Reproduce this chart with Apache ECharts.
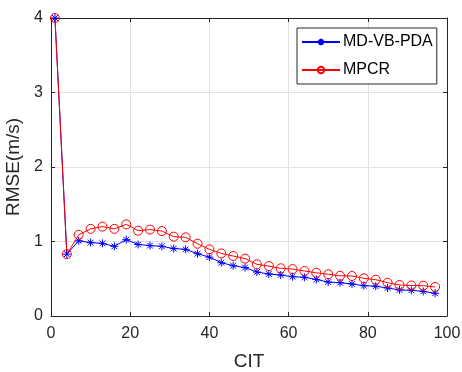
<!DOCTYPE html>
<html>
<head>
<meta charset="utf-8">
<script src="https://cdn.jsdelivr.net/npm/echarts@6/dist/echarts.min.js"></script>
<style>html,body{margin:0;padding:0;background:#fff}#c{width:462px;height:372px}</style>
</head>
<body>
<div id="c"></div>
<script>
const cit = [1,4,7,10,13,16,19,22,25,28,31,34,37,40,43,46,49,52,55,58,61,64,67,70,73,76,79,82,85,88,91,94,97];
const mdvbpda = [4.0,0.83,1.01,0.985,0.975,0.935,1.025,0.96,0.945,0.935,0.905,0.895,0.836,0.79,0.716,0.675,0.65,0.59,0.564,0.55,0.528,0.52,0.49,0.456,0.447,0.43,0.407,0.40,0.376,0.35,0.345,0.33,0.305];
const mpcr = [4.0,0.83,1.09,1.17,1.20,1.17,1.23,1.145,1.16,1.14,1.065,1.056,0.97,0.895,0.84,0.805,0.77,0.694,0.67,0.64,0.63,0.604,0.58,0.56,0.54,0.537,0.506,0.487,0.447,0.416,0.41,0.407,0.39];
const seriesNames = ['MD-VB-PDA','MPCR'];
const xName = 'CIT', yName = 'RMSE(m/s)';

const font = 'Liberation Sans, Arial, Helvetica, sans-serif';
const axisCol = '#262626';
const star = 'path://M0,-5L0,5M-5,0L5,0M-3.6,-3.6L3.6,3.6M-3.6,3.6L3.6,-3.6';

const chart = echarts.init(document.getElementById('c'));
const mkX = (pos) => ({
  type:'value', min:0, max:100, interval:20, position:pos,
  name: pos==='bottom'? xName : '', nameLocation:'middle', nameGap:36,
  nameTextStyle:{fontFamily:font, fontSize:19, color:axisCol},
  axisLine:{show:true, onZero:false, lineStyle:{color:axisCol, width:1}},
  axisTick:{show:true, inside:true, length:4, lineStyle:{color:axisCol}},
  axisLabel:{show: pos==='bottom', fontFamily:font, fontSize:16, color:axisCol, margin:10},
  splitLine:{show: pos==='bottom', lineStyle:{color:'#e2e2e2', width:1}}
});
const mkY = (pos) => ({
  type:'value', min:0, max:4, interval:1, position:pos,
  name: pos==='left'? yName : '', nameLocation:'middle', nameGap:20,
  nameTextStyle:{fontFamily:font, fontSize:19, color:axisCol},
  axisLine:{show:true, onZero:false, lineStyle:{color:axisCol, width:1}},
  axisTick:{show:true, inside:true, length:4, lineStyle:{color:axisCol}},
  axisLabel:{show: pos==='left', fontFamily:font, fontSize:16, color:axisCol, margin:8},
  splitLine:{show: pos==='left', lineStyle:{color:'#e2e2e2', width:1}}
});
chart.setOption({
  animation:false,
  backgroundColor:'#fff',
  grid:{left:51, right:15, top:18, bottom:56, containLabel:false, outerBoundsMode:'none'},
  legend:{
    orient:'vertical', left:297, top:28,
    backgroundColor:'#fff', borderColor:axisCol, borderWidth:1,
    padding:[6,4,6,4], itemGap:12, itemWidth:38, itemHeight:8,
    textStyle:{fontFamily:font, fontSize:16, color:'#000', padding:[0,0,0,-2]},
    data:seriesNames
  },
  xAxis:[mkX('bottom'), mkX('top')],
  yAxis:[mkY('left'), mkY('right')],
  series:[
    {
      name:seriesNames[0], type:'line', xAxisIndex:0, yAxisIndex:0,
      data: cit.map((x,i)=>[x, mdvbpda[i]]),
      symbol:star, symbolSize:8, showAllSymbol:true,
      lineStyle:{color:'#0000ff', width:1},
      itemStyle:{color:'#0000ff', borderColor:'#0000ff', borderWidth:1}
    },
    {
      name:seriesNames[1], type:'line', xAxisIndex:0, yAxisIndex:0,
      data: cit.map((x,i)=>[x, mpcr[i]]),
      symbol:'circle', symbolSize:9, showAllSymbol:true,
      lineStyle:{color:'#ff0000', width:1},
      itemStyle:{color:'rgba(255,255,255,0)', borderColor:'#ff0000', borderWidth:1}
    }
  ]
});
</script>
</body>
</html>
